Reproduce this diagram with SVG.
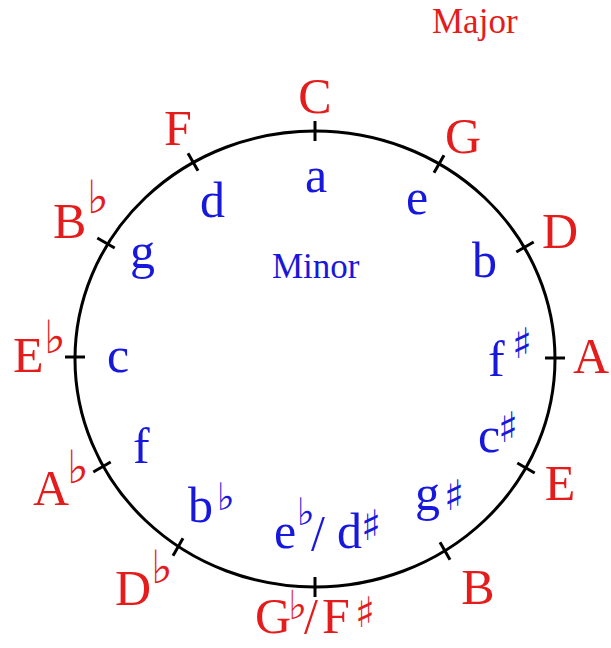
<svg xmlns="http://www.w3.org/2000/svg" width="611" height="648" viewBox="0 0 611 648">
<style>
text{font-family:"Liberation Serif","Times New Roman",serif}
.maj{fill:#e41c1c;font-size:50px}
.min{fill:#1818dc;font-size:50px}
.acc{font-family:"DejaVu Sans","DejaVu Serif",sans-serif}
.rs{fill:#e41c1c;font-size:46px}
.rss{fill:#e41c1c;font-size:40px}
.rsh{fill:#e41c1c;font-size:42px}
.bs{fill:#1818dc;font-size:42px}
.bf{fill:#1818dc;font-size:38px}
.lbl{font-size:35px}
.tick{stroke:#000;stroke-width:3}
</style>
<rect width="611" height="648" fill="#fff"/>
<g id="connectors">
<ellipse cx="315" cy="359" rx="240" ry="228" fill="none" stroke="#000" stroke-width="3"/>
<line class="tick" x1="315" y1="121" x2="315" y2="141"/>
<line class="tick" x1="444" y1="155.3" x2="434" y2="172.7"/>
<line class="tick" x1="533.7" y1="242" x2="516.3" y2="252"/>
<line class="tick" x1="565" y1="358" x2="545" y2="358"/>
<line class="tick" x1="534.7" y1="473" x2="517.3" y2="463"/>
<line class="tick" x1="450" y1="559.7" x2="440" y2="542.3"/>
<line class="tick" x1="315" y1="577" x2="315" y2="597"/>
<line class="tick" x1="173" y1="555.7" x2="183" y2="538.3"/>
<line class="tick" x1="93.3" y1="472" x2="110.7" y2="462"/>
<line class="tick" x1="65" y1="357" x2="85" y2="357"/>
<line class="tick" x1="97.3" y1="238" x2="114.7" y2="248"/>
<line class="tick" x1="188" y1="153.3" x2="198" y2="170.7"/>
</g>
<g id="title-major"><text class="lbl" x="432" y="33" fill="#e41c1c">Major</text></g>
<g id="title-minor"><text class="lbl" x="272" y="278" fill="#1818dc">Minor</text></g>
<g id="major-C"><text class="maj" x="315" y="113" text-anchor="middle">C</text></g>
<g id="major-G"><text class="maj" x="463" y="153" text-anchor="middle">G</text></g>
<g id="major-D"><text class="maj" x="560" y="248" text-anchor="middle">D</text></g>
<g id="major-A"><text class="maj" x="591" y="373" text-anchor="middle">A</text></g>
<g id="major-E"><text class="maj" x="560" y="500" text-anchor="middle">E</text></g>
<g id="major-B"><text class="maj" x="478" y="604" text-anchor="middle">B</text></g>
<g id="major-Gb-Fs"><text class="maj" x="255" y="633">G</text><text class="acc rss" x="288" y="619">♭</text><text class="maj" x="304" y="633">/</text><text class="maj" x="322" y="633">F</text><text class="acc rsh" x="355" y="627">♯</text></g>
<g id="major-Db"><text class="maj" x="115" y="605">D</text><text class="acc rs" x="151" y="583">♭</text></g>
<g id="major-Ab"><text class="maj" x="33" y="505">A</text><text class="acc rs" x="67" y="483">♭</text></g>
<g id="major-Eb"><text class="maj" x="13" y="372">E</text><text class="acc rs" x="44" y="353">♭</text></g>
<g id="major-Bb"><text class="maj" x="53" y="238">B</text><text class="acc rs" x="87" y="213">♭</text></g>
<g id="major-F"><text class="maj" x="178" y="145" text-anchor="middle">F</text></g>
<g id="minor-a"><text class="min" x="316" y="192" text-anchor="middle">a</text></g>
<g id="minor-e"><text class="min" x="406" y="214">e</text></g>
<g id="minor-b"><text class="min" x="472" y="277">b</text></g>
<g id="minor-fs"><text class="min" x="488" y="376">f</text><text class="acc bs" x="512" y="358">♯</text></g>
<g id="minor-cs"><text class="min" x="478" y="452">c</text><text class="acc bs" x="498" y="442">♯</text></g>
<g id="minor-gs"><text class="min" x="415" y="510">g</text><text class="acc bs" x="444" y="510">♯</text></g>
<g id="minor-eb-ds"><text class="min" x="274" y="548">e</text><text class="acc bf" x="297" y="525">♭</text><text class="min" x="311" y="550">/</text><text class="min" x="337" y="548">d</text><text class="acc bs" x="361" y="540">♯</text></g>
<g id="minor-bb"><text class="min" x="188" y="522">b</text><text class="acc bf" x="217" y="510">♭</text></g>
<g id="minor-f"><text class="min" x="133" y="463">f</text></g>
<g id="minor-c"><text class="min" x="107" y="372">c</text></g>
<g id="minor-g"><text class="min" x="130" y="268">g</text></g>
<g id="minor-d"><text class="min" x="200" y="217">d</text></g>
</svg>
